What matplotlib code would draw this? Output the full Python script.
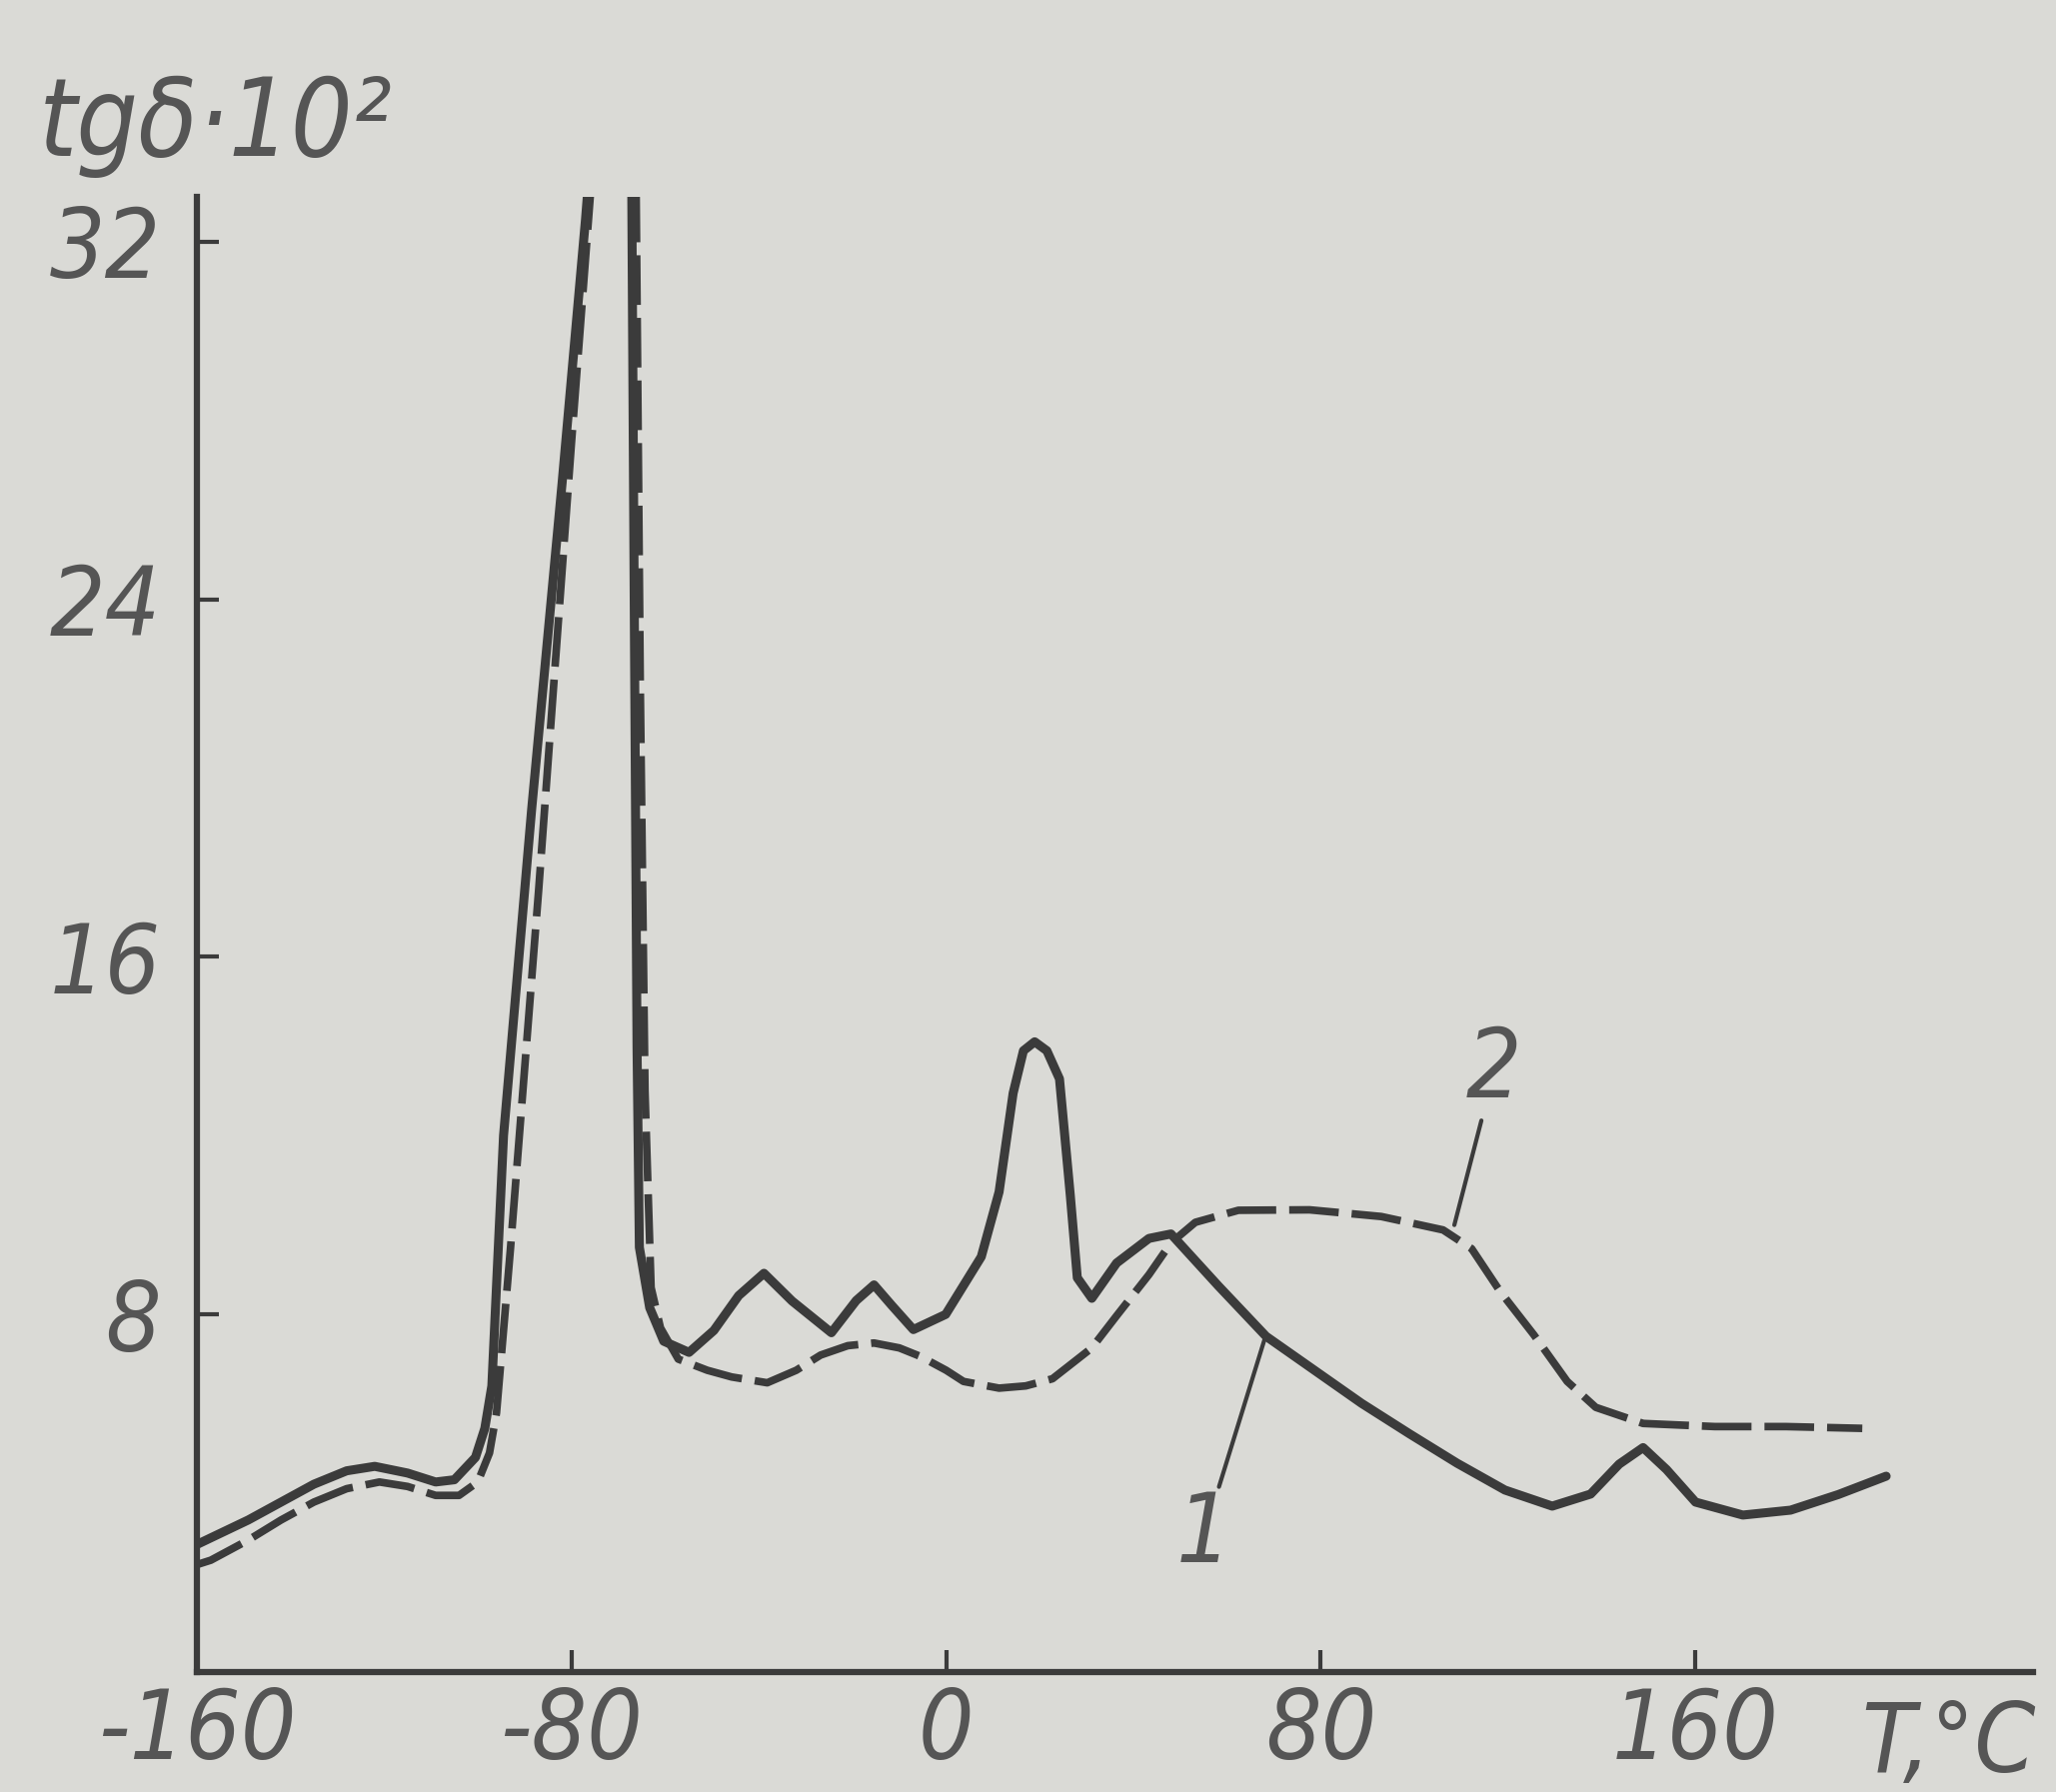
import numpy as np
import matplotlib.pyplot as plt

# curve 1 (solid line)
t1 = [-160, -157, -149, -142, -135, -128, -122, -115, -109, -105, -100.5, -98.5, -97,
      -94.5, -88.5, -82, -77, -75.5, np.nan,
      -67.2, -66.6, -66, -65.5, -63.3, -60.3, -54.9, -49.6, -44.3, -38.9, -32.9, -24.5,
      -19.2, -15.4, -11.6, -7, -0.1, 7.5, 11.3, 14.3, 16.5, 18.9, 21.5, 24.2, 26.5, 28, 31.1, 36.4,
      43.3, 48, 58.1, 68.3, 78.5, 88.7, 98.9, 109.1, 119.3, 129.4, 137.6, 143.7, 148.8,
      153.8, 160, 170.1, 180.3, 190.5, 200.7]
v1 = [2.85, 3.0, 3.4, 3.8, 4.2, 4.5, 4.6, 4.45, 4.25, 4.3, 4.8, 5.45, 6.4,
      12.0, 19.3, 26.6, 32.5, 34.5, np.nan,
      34.5, 24, 14, 9.5, 8.15, 7.4, 7.15, 7.64, 8.42, 8.92, 8.3, 7.59,
      8.31, 8.66, 8.2, 7.66, 8.0, 9.29, 10.74, 12.95, 13.9, 14.1, 13.9, 13.27, 10.67, 8.82, 8.36, 9.15,
      9.7, 9.8, 8.64, 7.51, 6.76, 6.01, 5.33, 4.67, 4.07, 3.71, 3.98, 4.65, 5.02,
      4.53, 3.8, 3.51, 3.62, 3.97, 4.38]

# curve 2 (dashed line)
t2 = [-160, -157, -149, -142, -135, -128, -121, -115, -109, -104, -100, -97.5, -96,
      -93, -87, -80, -76, -74.5, np.nan,
      -66.3, -65.3, -64.3, -63, -61, -57.2, -51, -45.8, -38.2, -32, -26.8, -21, -15.4,
      -10, -5.5, 0, 3.7, 11.3, 17, 22.7, 31.1, 36.4, 43.3, 48, 53.2, 62.4, 77.6, 92.9,
      106.1, 112.2, 118.3, 125.5, 132.6, 138.7, 148.8, 164.1, 179.3, 195.6]
v2 = [2.4, 2.5, 2.95, 3.4, 3.8, 4.1, 4.25, 4.15, 3.95, 3.95, 4.25, 4.9, 5.8,
      9.5, 17.5, 27.5, 33, 34.5, np.nan,
      34.5, 22, 13, 8.6, 7.7, 7.0, 6.75, 6.6, 6.47, 6.75, 7.09, 7.3, 7.36,
      7.25, 7.06, 6.75, 6.5, 6.35, 6.4, 6.56, 7.25, 7.97, 8.89, 9.6, 10.06, 10.33, 10.34, 10.19,
      9.89, 9.47, 8.51, 7.54, 6.5, 5.92, 5.56, 5.49, 5.49, 5.45]

x_ticks = [-160, -80, 0, 80, 160]
y_ticks = [8, 16, 24, 32]

bg = '#dadad6'
ink = '#3b3b3b'
txt = '#555555'
font = dict(family='DejaVu Sans', stretch='condensed', style='italic')
fs = 70

fig = plt.figure(figsize=(20.57, 17.93), dpi=100, facecolor=bg)
ax = fig.add_axes([0.0957, 0.067, 0.893, 0.823])
ax.set_facecolor(bg)

ax.plot(t1, v1, color=ink, lw=6.5, solid_joinstyle='round', solid_capstyle='round')
ax.plot(t2, v2, color=ink, lw=5.5, dashes=(6.5, 1.7))

ax.set_xlim(-160, 232)
ax.set_ylim(0, 33)
for s in ['top', 'right']:
    ax.spines[s].set_visible(False)
for s in ['left', 'bottom']:
    ax.spines[s].set_linewidth(4.5)
    ax.spines[s].set_color(ink)

ax.set_xticks(x_ticks)
ax.set_xticklabels([str(t) for t in x_ticks])
ax.set_yticks(y_ticks)
ax.set_yticklabels([str(t) for t in y_ticks])
ax.tick_params(direction='in', length=16, width=3, color=ink, labelcolor=txt, labelsize=fs)
ax.tick_params(axis='x', pad=10)
ax.tick_params(axis='y', pad=26)
for lab in ax.get_xticklabels() + ax.get_yticklabels():
    lab.set_family(font['family'])
    lab.set_stretch(font['stretch'])
    lab.set_style(font['style'])

# curve labels
ax.annotate('2', xy=(108.5, 10.0), xytext=(117, 12.4), color=txt, fontsize=fs,
            ha='center', va='bottom', **font,
            arrowprops=dict(arrowstyle='-', color=ink, lw=3, shrinkA=0, shrinkB=0))
ax.annotate('1', xy=(68.3, 7.55), xytext=(55, 2.0), color=txt, fontsize=fs,
            ha='center', va='bottom', **font,
            arrowprops=dict(arrowstyle='-', color=ink, lw=3, shrinkA=0, shrinkB=0))

ax.text(214, -0.6, 'T,°C', color=txt, fontsize=fs, ha='center', va='top',
        clip_on=False, **font)
fig.text(0.019, 0.93, 'tgδ·10²', color=txt, fontsize=78, ha='left', va='center', **font)

fig.savefig('out.png', dpi=100, facecolor=bg)
